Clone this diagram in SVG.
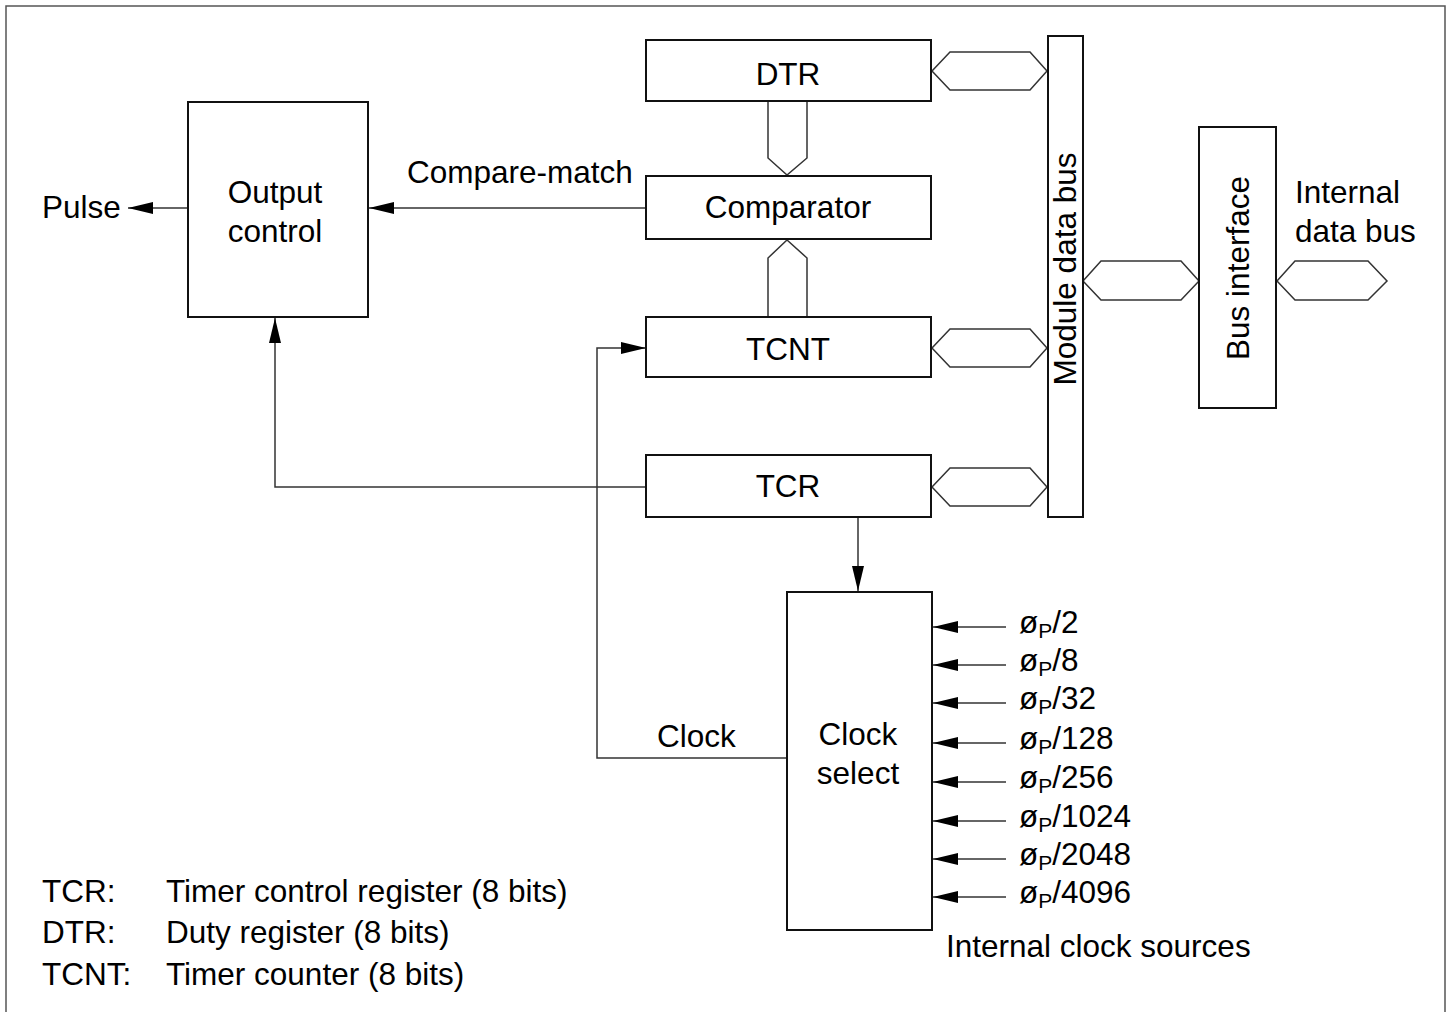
<svg xmlns="http://www.w3.org/2000/svg" width="1451" height="1012" viewBox="0 0 1451 1012">
<defs>
<style>
.box{fill:#fff;stroke:#111;stroke-width:2}
.ln{fill:none;stroke:#333;stroke-width:1.5}
.bus{fill:#fff;stroke:#333;stroke-width:1.5}
.t{font-family:"Liberation Sans",Arial,sans-serif;font-size:31.5px;fill:#000}
.m{text-anchor:middle}
.sub{font-size:21px}
</style>
<marker id="ah" viewBox="0 0 25 12" refX="25" refY="6" markerWidth="25" markerHeight="12" markerUnits="userSpaceOnUse" orient="auto">
<path d="M0,0 L25,6 L0,12 z" fill="#000"/>
</marker>
</defs>
<rect width="1451" height="1012" fill="#fff"/>
<path d="M6,1012 V6 H1445 V1012" fill="none" stroke="#555" stroke-width="1.5"/>

<g id="connectors">
<line class="ln" x1="188" y1="208" x2="128" y2="208" marker-end="url(#ah)"/>
<line class="ln" x1="646" y1="208" x2="369" y2="208" marker-end="url(#ah)"/>
<path class="ln" d="M646,487 H275 V318" marker-end="url(#ah)"/>
<path class="ln" d="M858,517 V591" marker-end="url(#ah)"/>
<path class="ln" d="M787,758 H597 V348 H646" marker-end="url(#ah)"/>
<path class="ln" d="M1006,627 H933" marker-end="url(#ah)"/>
<path class="ln" d="M1006,665 H933" marker-end="url(#ah)"/>
<path class="ln" d="M1006,703 H933" marker-end="url(#ah)"/>
<path class="ln" d="M1006,743 H933" marker-end="url(#ah)"/>
<path class="ln" d="M1006,782 H933" marker-end="url(#ah)"/>
<path class="ln" d="M1006,821 H933" marker-end="url(#ah)"/>
<path class="ln" d="M1006,859 H933" marker-end="url(#ah)"/>
<path class="ln" d="M1006,897 H933" marker-end="url(#ah)"/>
<path class="bus" d="M768,101 V158 L787,175 L807,158 V101"/>
<path class="bus" d="M768,317 V258 L787,240 L807,258 V317"/>
<polygon class="bus" points="932,71 950,52 1030,52 1047,71 1030,90 950,90"/>
<polygon class="bus" points="932,348 950,329 1030,329 1047,348 1030,367 950,367"/>
<polygon class="bus" points="932,487 950,468 1030,468 1047,487 1030,506 950,506"/>
<polygon class="bus" points="1083,281 1101,261 1181,261 1199,281 1181,300 1101,300"/>
<polygon class="bus" points="1277,281 1295,261 1368,261 1387,281 1368,300 1295,300"/>
</g>

<g id="output-control">
<rect class="box" x="188" y="102" width="180" height="215"/>
<text class="t m" x="275" y="203">Output</text>
<text class="t m" x="275" y="242">control</text>
</g>
<g id="dtr">
<rect class="box" x="646" y="40" width="285" height="61"/>
<text class="t m" x="788" y="85">DTR</text>
</g>
<g id="comparator">
<rect class="box" x="646" y="176" width="285" height="63"/>
<text class="t m" x="788" y="218">Comparator</text>
</g>
<g id="tcnt">
<rect class="box" x="646" y="317" width="285" height="60"/>
<text class="t m" x="788" y="360">TCNT</text>
</g>
<g id="tcr">
<rect class="box" x="646" y="455" width="285" height="62"/>
<text class="t m" x="788" y="497">TCR</text>
</g>
<g id="module-data-bus">
<rect class="box" x="1048" y="36" width="35" height="481"/>
<text class="t m" transform="translate(1076,269) rotate(-90)">Module data bus</text>
</g>
<g id="bus-interface">
<rect class="box" x="1199" y="127" width="77" height="281"/>
<text class="t m" transform="translate(1249,268) rotate(-90)">Bus interface</text>
</g>
<g id="clock-select">
<rect class="box" x="787" y="592" width="145" height="338"/>
<text class="t m" x="858" y="745">Clock</text>
<text class="t m" x="858" y="784">select</text>
</g>

<g id="labels">
<text class="t" x="42" y="218">Pulse</text>
<text class="t" x="407" y="183">Compare-match</text>
<text class="t" x="657" y="747">Clock</text>
<text class="t" x="1295" y="203">Internal</text>
<text class="t" x="1295" y="242">data bus</text>
<text class="t" x="1019" y="633">ø<tspan class="sub" dy="5">P</tspan><tspan dy="-5">/2</tspan></text>
<text class="t" x="1019" y="671">ø<tspan class="sub" dy="5">P</tspan><tspan dy="-5">/8</tspan></text>
<text class="t" x="1019" y="709">ø<tspan class="sub" dy="5">P</tspan><tspan dy="-5">/32</tspan></text>
<text class="t" x="1019" y="749">ø<tspan class="sub" dy="5">P</tspan><tspan dy="-5">/128</tspan></text>
<text class="t" x="1019" y="788">ø<tspan class="sub" dy="5">P</tspan><tspan dy="-5">/256</tspan></text>
<text class="t" x="1019" y="827">ø<tspan class="sub" dy="5">P</tspan><tspan dy="-5">/1024</tspan></text>
<text class="t" x="1019" y="865">ø<tspan class="sub" dy="5">P</tspan><tspan dy="-5">/2048</tspan></text>
<text class="t" x="1019" y="903">ø<tspan class="sub" dy="5">P</tspan><tspan dy="-5">/4096</tspan></text>
<text class="t" x="946" y="957">Internal clock sources</text>
<text class="t" x="42" y="902">TCR:</text>
<text class="t" x="166" y="902">Timer control register (8 bits)</text>
<text class="t" x="42" y="943">DTR:</text>
<text class="t" x="166" y="943">Duty register (8 bits)</text>
<text class="t" x="42" y="985">TCNT:</text>
<text class="t" x="166" y="985">Timer counter (8 bits)</text>
</g>
</svg>
